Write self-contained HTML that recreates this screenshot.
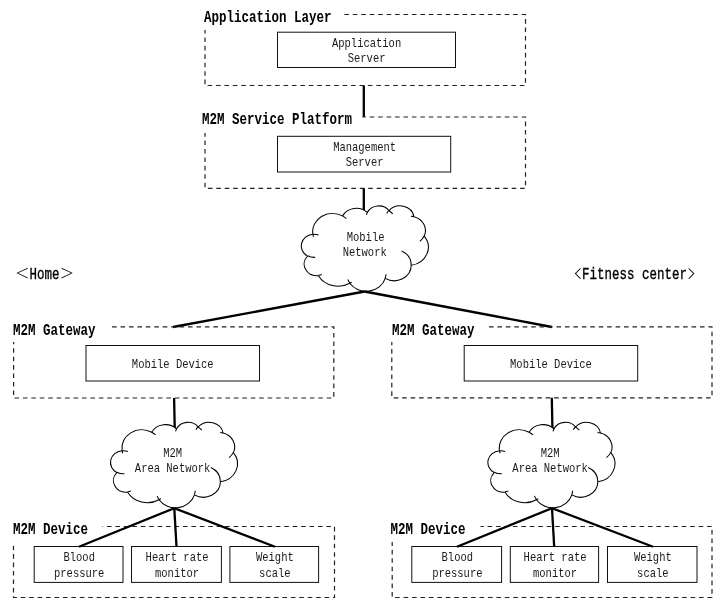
<!DOCTYPE html>
<html lang="en"><head><meta charset="utf-8"><title>M2M architecture</title>
<style>
html,body{margin:0;padding:0;background:#fff;overflow:hidden}
svg{display:block;filter:grayscale(1)}
text{font-family:"Liberation Mono", "IPAGothic", monospace;fill:#000;white-space:pre}
.t{font-size:12.6px;text-anchor:middle;fill:#1a1a1a}
.n{font-size:16.3px;stroke:#000;stroke-width:.35px}
.k{font-size:13px}
.q{font-size:15px}
.h{font-size:16.3px;font-weight:bold}
.d{fill:none;stroke:#222;stroke-width:1.2;stroke-dasharray:4.6 3.84}
.b{fill:#fff;stroke:#111;stroke-width:1}
.l{stroke:#000;stroke-width:2.3}
.c{fill:#fff;stroke:#000;stroke-width:1.05}
.ci{fill:none;stroke:#000;stroke-width:1.05}
</style></head><body>
<svg role="img" aria-label="M2M architecture diagram" width="726" height="609" viewBox="0 0 726 609">
<path d="M344 14.5H525.5V85.5H205V30" class="d" stroke-dashoffset="8.06"/>
<text transform="translate(204 22) scale(0.7669 1)" class="h">Application Layer</text>
<rect x="277.5" y="32.2" width="178" height="35.3" class="b"/>
<text transform="translate(366.6 46.7) scale(0.8333 1)" class="t">Application</text>
<text transform="translate(366.6 61.7) scale(0.8333 1)" class="t">Server</text>
<line x1="363.8" y1="85.5" x2="363.8" y2="117" class="l"/>
<path d="M362.6 117H525.5V188.3H205V133" class="d" stroke-dashoffset="1.34"/>
<text transform="translate(202 123.6) scale(0.7669 1)" class="h">M2M Service Platform</text>
<rect x="277.5" y="136.3" width="173.2" height="35.7" class="b"/>
<text transform="translate(364.6 151) scale(0.8333 1)" class="t">Management</text>
<text transform="translate(364.6 166) scale(0.8333 1)" class="t">Server</text>
<line x1="363.8" y1="188.3" x2="363.8" y2="212" class="l"/>
<path d="M312.86 234.02A19.83 18.16 0 0 1 342.52 215.90A15.66 14.36 0 0 1 367.34 212.40A12.82 11.75 0 0 1 388.99 210.52A14.26 13.03 0 0 1 413.91 216.64A15.66 14.37 0 0 1 424.18 236.17A19.89 18.22 0 0 1 411.22 265.31A16.98 15.55 0 0 1 385.25 278.37A19.82 18.21 0 0 1 349.79 283.21A22.67 20.83 0 0 1 318.45 275.71A12.80 11.69 0 0 1 307.61 256.11A12.76 11.75 0 0 1 312.75 234.28Z" class="c"/>
<path d="M315.18 257.35A12.76 11.75 0 0 1 307.75 255.77M321.75 274.58A12.80 11.69 0 0 1 318.49 275.34M349.78 282.87A19.82 18.21 0 0 1 347.82 279.43M386.04 274.29A19.82 18.21 0 0 1 385.26 278.06M401.61 250.98A16.98 15.55 0 0 1 411.15 265.08M424.12 235.96A15.66 14.37 0 0 1 419.87 241.25M413.91 216.64L410.97 216.15M386.78 213.43A14.26 13.03 0 0 1 388.96 210.25M366.41 214.95A12.82 11.75 0 0 1 367.47 212.20M342.51 215.88A19.83 18.16 0 0 1 346.33 218.55M313.52 236.82A19.83 18.16 0 0 1 312.86 234.02M388.99 210.52L392.69 213.73M312.75 234.28A12.76 11.75 0 0 1 318.63 235.00M349.79 283.21L351.70 282.22" class="ci"/>
<text transform="translate(365.6 241) scale(0.8333 1)" class="t">Mobile</text>
<text transform="translate(364.7 256) scale(0.8333 1)" class="t">Network</text>
<line x1="364.6" y1="291.5" x2="173" y2="327" class="l"/>
<line x1="364.6" y1="291.5" x2="552" y2="327" class="l"/>
<text x="15.66" y="278.3" class="k">＜</text>
<text x="60.44" y="278.3" class="k">＞</text>
<text transform="translate(29.6 278.6) scale(0.7669 1)" class="n">Home</text>
<text transform="translate(566.4 278) scale(1.03 0.77)" class="q">〈</text>
<text transform="translate(687.2 278) scale(1.03 0.77)" class="q">〉</text>
<text transform="translate(582 278.8) scale(0.7669 1)" class="n">Fitness center</text>
<path d="M111 326.8H333.8V398H13.6V342" class="d" stroke-dashoffset="7.36"/>
<text transform="translate(13 334.5) scale(0.7669 1)" class="h">M2M Gateway</text>
<rect x="86" y="345.5" width="173.5" height="35.5" class="b"/>
<text transform="translate(172.75 368) scale(0.8333 1)" class="t">Mobile Device</text>
<line x1="174.1" y1="398" x2="174.8" y2="432" class="l"/>
<path d="M122.06 450.45A19.83 18.18 0 0 1 151.72 432.31A15.66 14.38 0 0 1 176.54 428.81A12.82 11.76 0 0 1 198.19 426.93A14.26 13.05 0 0 1 223.11 433.05A15.66 14.39 0 0 1 233.38 452.61A19.89 18.24 0 0 1 220.42 481.77A16.98 15.56 0 0 1 194.45 494.85A19.82 18.23 0 0 1 158.99 499.70A22.67 20.86 0 0 1 127.65 492.19A12.80 11.71 0 0 1 116.81 472.57A12.76 11.76 0 0 1 121.95 450.72Z" class="c"/>
<path d="M124.38 473.81A12.76 11.76 0 0 1 116.95 472.23M130.95 491.07A12.80 11.71 0 0 1 127.69 491.82M158.98 499.36A19.82 18.23 0 0 1 157.02 495.91M195.24 490.77A19.82 18.23 0 0 1 194.46 494.55M210.81 467.43A16.98 15.56 0 0 1 220.35 481.55M233.32 452.40A15.66 14.39 0 0 1 229.07 457.69M223.11 433.05L220.17 432.56M195.98 429.84A14.26 13.05 0 0 1 198.16 426.65M175.61 431.36A12.82 11.76 0 0 1 176.67 428.61M151.71 432.29A19.83 18.18 0 0 1 155.53 434.96M122.72 453.26A19.83 18.18 0 0 1 122.06 450.45M198.19 426.93L201.89 430.13M121.95 450.72A12.76 11.76 0 0 1 127.83 451.44M158.99 499.70L160.90 498.71" class="ci"/>
<text transform="translate(172.6 456.5) scale(0.8333 1)" class="t">M2M</text>
<text transform="translate(172.6 471.5) scale(0.8333 1)" class="t">Area Network</text>
<path d="M102.5 526.5H334.5V597.5H13.5V542" class="d" stroke-dashoffset="3.96"/>
<text transform="translate(13 533.7) scale(0.7669 1)" class="h">M2M Device</text>
<rect x="34.2" y="546.5" width="88.8" height="35.9" class="b"/>
<text transform="translate(79.2 561) scale(0.8333 1)" class="t">Blood</text>
<text transform="translate(79.2 577) scale(0.8333 1)" class="t">pressure</text>
<rect x="131.5" y="546.5" width="89.9" height="35.9" class="b"/>
<text transform="translate(177.05 561) scale(0.8333 1)" class="t">Heart rate</text>
<text transform="translate(177.05 577) scale(0.8333 1)" class="t">monitor</text>
<rect x="229.9" y="546.5" width="88.7" height="35.9" class="b"/>
<text transform="translate(274.85 561) scale(0.8333 1)" class="t">Weight</text>
<text transform="translate(274.85 577) scale(0.8333 1)" class="t">scale</text>
<line x1="174.3" y1="508.2" x2="79" y2="546.8" class="l"/>
<line x1="174.3" y1="508.2" x2="176.5" y2="546.8" class="l"/>
<line x1="174.3" y1="508.2" x2="275" y2="546.8" class="l"/>
<path d="M489 326.8H712V397.8H391.8V342" class="d" stroke-dashoffset="0.02"/>
<text transform="translate(392 334.5) scale(0.7669 1)" class="h">M2M Gateway</text>
<rect x="464.2" y="345.5" width="173.5" height="35.5" class="b"/>
<text transform="translate(550.95 368) scale(0.8333 1)" class="t">Mobile Device</text>
<line x1="551.8" y1="397.8" x2="552.5" y2="432" class="l"/>
<path d="M499.46 450.45A19.83 18.18 0 0 1 529.12 432.31A15.66 14.38 0 0 1 553.94 428.81A12.82 11.76 0 0 1 575.59 426.93A14.26 13.05 0 0 1 600.51 433.05A15.66 14.39 0 0 1 610.78 452.61A19.89 18.24 0 0 1 597.82 481.77A16.98 15.56 0 0 1 571.85 494.85A19.82 18.23 0 0 1 536.39 499.70A22.67 20.86 0 0 1 505.05 492.19A12.80 11.71 0 0 1 494.21 472.57A12.76 11.76 0 0 1 499.35 450.72Z" class="c"/>
<path d="M501.78 473.81A12.76 11.76 0 0 1 494.35 472.23M508.35 491.07A12.80 11.71 0 0 1 505.09 491.82M536.38 499.36A19.82 18.23 0 0 1 534.42 495.91M572.64 490.77A19.82 18.23 0 0 1 571.86 494.55M588.21 467.43A16.98 15.56 0 0 1 597.75 481.55M610.72 452.40A15.66 14.39 0 0 1 606.47 457.69M600.51 433.05L597.57 432.56M573.38 429.84A14.26 13.05 0 0 1 575.56 426.65M553.01 431.36A12.82 11.76 0 0 1 554.07 428.61M529.11 432.29A19.83 18.18 0 0 1 532.93 434.96M500.12 453.26A19.83 18.18 0 0 1 499.46 450.45M575.59 426.93L579.29 430.13M499.35 450.72A12.76 11.76 0 0 1 505.23 451.44M536.39 499.70L538.30 498.71" class="ci"/>
<text transform="translate(550.1 456.5) scale(0.8333 1)" class="t">M2M</text>
<text transform="translate(550.1 471.5) scale(0.8333 1)" class="t">Area Network</text>
<path d="M480.5 526.5H712V597.5H392.2V542" class="d" stroke-dashoffset="1.36"/>
<text transform="translate(390.6 533.7) scale(0.7669 1)" class="h">M2M Device</text>
<rect x="411.8" y="546.5" width="89.8" height="35.9" class="b"/>
<text transform="translate(457.3 561) scale(0.8333 1)" class="t">Blood</text>
<text transform="translate(457.3 577) scale(0.8333 1)" class="t">pressure</text>
<rect x="510.3" y="546.5" width="88.3" height="35.9" class="b"/>
<text transform="translate(555.05 561) scale(0.8333 1)" class="t">Heart rate</text>
<text transform="translate(555.05 577) scale(0.8333 1)" class="t">monitor</text>
<rect x="607.5" y="546.5" width="89.5" height="35.9" class="b"/>
<text transform="translate(652.85 561) scale(0.8333 1)" class="t">Weight</text>
<text transform="translate(652.85 577) scale(0.8333 1)" class="t">scale</text>
<line x1="552" y1="508.2" x2="457" y2="546.8" class="l"/>
<line x1="552" y1="508.2" x2="554.2" y2="546.8" class="l"/>
<line x1="552" y1="508.2" x2="653" y2="546.8" class="l"/>
</svg>
</body></html>
